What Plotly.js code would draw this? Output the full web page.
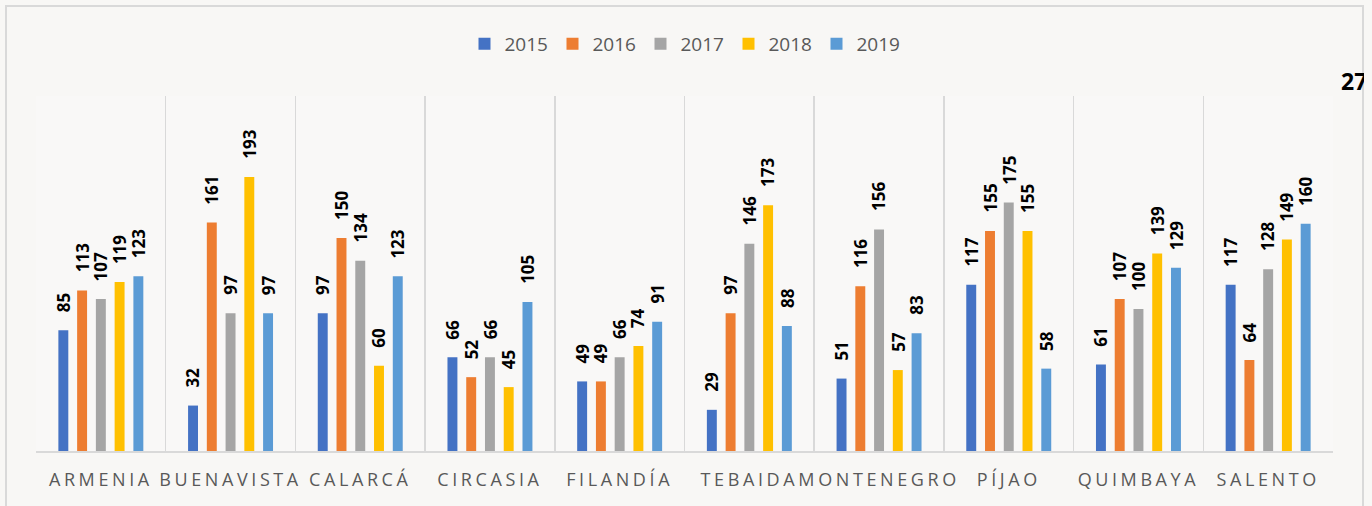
<!DOCTYPE html>
<html>
<head>
<meta charset="utf-8">
<script src="https://cdn.plot.ly/plotly-3.0.1.min.js"></script>
<style>
  html, body { margin: 0; padding: 0; background: #f8f7f5; }
  #wrap { position: relative; width: 1372px; height: 506px; overflow: hidden; }
  #chart { width: 1372px; height: 506px; }
  #edge { position: absolute; left: 1364px; top: 0; width: 8px; height: 506px; background: #f8f7f5; }
  .xtick text { letter-spacing: 3.6px; }
</style>
</head>
<body>
<div id="wrap"><div id="chart"></div><div id="edge"></div></div>
<script>
const categories = ["ARMENIA", "BUENAVISTA", "CALARCÁ", "CIRCASIA", "FILANDÍA", "TEBAIDA", "MONTENEGRO", "PÍJAO", "QUIMBAYA", "SALENTO"];
const seriesNames = ["2015", "2016", "2017", "2018", "2019"];
const v2015 = [85, 32, 97, 66, 49, 29, 51, 117, 61, 117];
const v2016 = [113, 161, 150, 52, 49, 97, 116, 155, 107, 64];
const v2017 = [107, 97, 134, 66, 66, 146, 156, 175, 100, 128];
const v2018 = [119, 193, 60, 45, 74, 173, 57, 155, 139, 149];
const v2019 = [123, 97, 123, 105, 91, 88, 83, 58, 129, 160];
const strayLabel = "27";

const seriesValues = [v2015, v2016, v2017, v2018, v2019];
const colors = ["#4472C4", "#ED7D31", "#A5A5A5", "#FFC000", "#5B9BD5"];

const W = 1372, H = 506;
const m = {l: 36, r: 39, t: 96, b: 55};
const pw = W - m.l - m.r, ph = H - m.t - m.b;
const px2x = p => (p - m.l) / pw;
const px2y = p => (H - m.b - p) / ph;

const bargap = 0.277;
const slot = (1 - bargap) / seriesNames.length;

const traces = seriesNames.map((name, j) => ({
  type: "bar",
  name: name,
  x: categories,
  y: seriesValues[j],
  marker: {color: colors[j]},
  hoverinfo: "skip"
}));

const annotations = [];
seriesValues.forEach((vals, j) => {
  vals.forEach((v, i) => {
    annotations.push({
      x: i + (j - (seriesNames.length - 1) / 2) * slot,
      y: v,
      xref: "x", yref: "y",
      text: String(v),
      showarrow: false,
      textangle: -90,
      xanchor: "center",
      yanchor: "bottom",
      yshift: 16,
      font: {family: "Open Sans", size: 17, color: "#000000", weight: "bold"}
    });
  });
});
annotations.push({
  x: px2x(1339), y: px2y(81), xref: "paper", yref: "paper",
  xanchor: "left", yanchor: "middle",
  text: strayLabel, showarrow: false,
  font: {family: "Open Sans", size: 23, color: "#000000", weight: "bold"}
});

const layout = {
  width: W, height: H,
  margin: m,
  paper_bgcolor: "#f8f7f5",
  plot_bgcolor: "#f9f8f7",
  barmode: "group",
  bargap: bargap,
  bargroupgap: 0.47,
  showlegend: true,
  legend: {
    orientation: "h", x: 0.5, xanchor: "center",
    y: px2y(44), yanchor: "middle",
    entrywidth: 43,
    font: {family: "Open Sans", size: 19, color: "#595959"},
    bgcolor: "rgba(0,0,0,0)"
  },
  xaxis: {
    type: "category",
    tickson: "boundaries",
    ticks: "",
    tickangle: 0,
    showgrid: true, gridcolor: "#d9d9d9", gridwidth: 1.5,
    showline: true, linecolor: "#d9d9d9", linewidth: 2,
    tickfont: {family: "Open Sans", size: 18, color: "#595959"},
    ticklabelstandoff: 11,
    fixedrange: true
  },
  yaxis: {
    range: [0, 250],
    showgrid: false, zeroline: false, showline: false,
    showticklabels: false, ticks: "",
    fixedrange: true
  },
  shapes: [{
    type: "rect", xref: "paper", yref: "paper",
    x0: px2x(6), x1: px2x(1363), y0: px2y(530), y1: px2y(6),
    line: {color: "#d9d9d9", width: 2}, fillcolor: "rgba(0,0,0,0)", layer: "below"
  }],
  annotations: annotations
};

Plotly.newPlot("chart", traces, layout, {displayModeBar: false, staticPlot: true});
</script>
</body>
</html>
